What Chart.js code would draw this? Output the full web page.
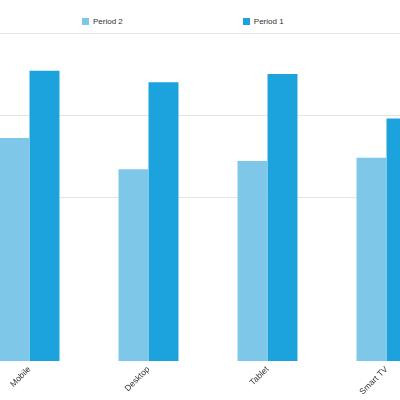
<!DOCTYPE html>
<html>
<head>
<meta charset="utf-8">
<script src="https://cdn.jsdelivr.net/npm/chart.js@4/dist/chart.umd.min.js"></script>
<style>
    html, body { margin: 0; padding: 0; background: #fff; overflow: hidden; }
    body { width: 400px; height: 400px; position: relative; }
    #legend { position: absolute; top: 17px; left: 82px; display: flex; gap: 120px;
              font: 8px "Liberation Sans", Arial, sans-serif; color: #333; }
    #legend .item { display: flex; align-items: center; }
    #legend .box { width: 7px; height: 7px; margin-right: 4px; }
    #chartWrap { position: absolute; left: -30px; top: 0; width: 476px; height: 400px; }
</style>
</head>
<body>
<div id="legend"></div>
<div id="chartWrap"><canvas id="devicesChart"></canvas></div>
<script>
// Chart data
const categories = ['Mobile', 'Desktop', 'Tablet', 'Smart TV'];
const period2 = [68, 58.5, 61, 62];
const period1 = [88.5, 85, 87.5, 74];
const seriesNames = ['Period 2', 'Period 1'];
const yTicks = { min: 0, max: 100, step: 25 };

const colors = ['#7fc7e8', '#1ca3de'];

// HTML legend built from the chart's own legend items
const htmlLegend = {
    id: 'htmlLegend',
    afterUpdate(chart) {
        const box = document.getElementById('legend');
        box.innerHTML = '';
        const items = chart.options.plugins.legend.labels.generateLabels(chart);
        items.forEach(item => {
            const el = document.createElement('div');
            el.className = 'item';
            el.innerHTML = `<span class="box" style="background:${item.fillStyle}"></span><span>${item.text}</span>`;
            box.appendChild(el);
        });
    }
};

new Chart(document.getElementById('devicesChart'), {
    type: 'bar',
    data: {
        labels: categories,
        datasets: [
            { label: seriesNames[0], data: period2, backgroundColor: colors[0] },
            { label: seriesNames[1], data: period1, backgroundColor: colors[1] }
        ]
    },
    options: {
        responsive: true,
        maintainAspectRatio: false,
        animation: false,
        layout: { padding: { top: 33, bottom: 0, left: 0, right: 0 } },
        datasets: {
            bar: { categoryPercentage: 0.504, barPercentage: 1 }
        },
        plugins: {
            legend: { display: false },
            tooltip: { enabled: false }
        },
        scales: {
            x: {
                grid: { display: false, drawTicks: false },
                border: { display: false },
                ticks: {
                    color: '#333',
                    font: { family: '"Liberation Sans", Arial, sans-serif', size: 8.5 },
                    minRotation: 45,
                    maxRotation: 45,
                    padding: 3
                }
            },
            y: {
                min: yTicks.min,
                max: yTicks.max,
                border: { display: false },
                ticks: { display: false, stepSize: yTicks.step },
                grid: {
                    drawTicks: false,
                    color: ctx => ctx.tick && ctx.tick.value >= 50 ? '#e4e4e4' : 'rgba(0,0,0,0)'
                }
            }
        }
    },
    plugins: [htmlLegend]
});
</script>
</body>
</html>
